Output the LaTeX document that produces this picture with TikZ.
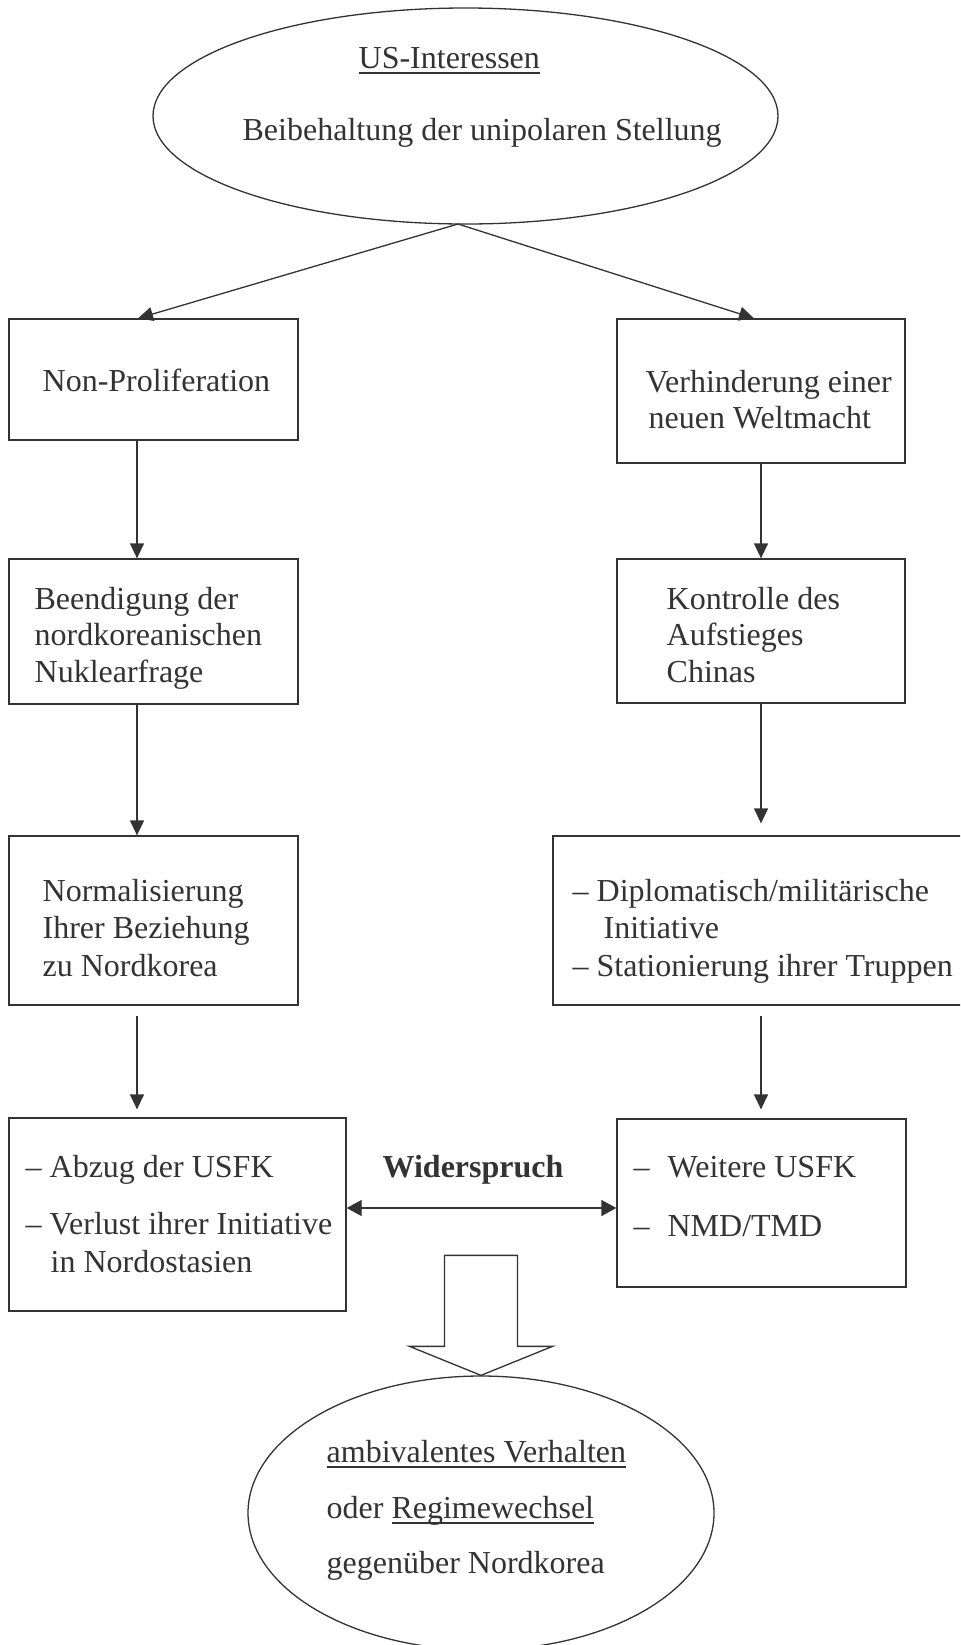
\documentclass[tikz,border=0pt]{standalone}
\usepackage{fontspec}
\setmainfont{Liberation Serif}
\usetikzlibrary{shapes.geometric,arrows.meta,calc}
\definecolor{ink}{HTML}{333333}
\newsavebox\ulbox
\newcommand\myul[1]{\sbox\ulbox{#1}\rlap{\usebox\ulbox}\rule[-2.8pt]{\wd\ulbox}{0.65pt}}
\begin{document}
\begin{tikzpicture}[x=0.5pt,y=-0.5pt,line width=0.65pt,color=ink,
  box/.style={draw,rectangle,inner sep=0pt},
  oval/.style={draw,ellipse,inner sep=0pt},
  txt/.style={anchor=base west,inner sep=0pt,font=\fontsize{16pt}{18.4pt}\selectfont},
  arr/.style={-{Triangle[length=7.5pt,width=7pt]}},
  darr/.style={{Triangle[length=7.5pt,width=8pt]}-{Triangle[length=7.5pt,width=8pt]}}]
\useasboundingbox (0,0) rectangle (960,1645);
\clip (0,0) rectangle (960,1645);
\fill[white] (0,0) rectangle (960,1645);

% ellipses
\node[oval,minimum width=312.5pt,minimum height=108pt] (top) at (465.5,116) {};
\node[oval,minimum width=233pt,minimum height=137pt] (bot) at (481,1513) {};

% boxes
\node[box,minimum width=144.5pt,minimum height=60.5pt] (npbox) at (153.5,379.5) {};
\node[box,minimum width=144pt,minimum height=72pt] (vwbox) at (761,391) {};
\node[box,minimum width=144.5pt,minimum height=72.5pt] (bdbox) at (153.5,631.5) {};
\node[box,minimum width=144pt,minimum height=72pt] (kcbox) at (761,631) {};
\node[box,minimum width=144.5pt,minimum height=84.5pt] (nmbox) at (153.5,920.5) {};
\node[box,minimum width=211pt,minimum height=84.5pt] (dpbox) at (764,920.5) {};
\node[box,minimum width=168.5pt,minimum height=96.5pt] (abbox) at (177.5,1214.5) {};
\node[box,minimum width=144.5pt,minimum height=84pt] (wtbox) at (761.5,1203) {};

% texts
\node[txt] (t1) at (358,68) {\myul{US-Interessen}};
\node[txt] (t2) at (242,140) {Beibehaltung der unipolaren Stellung};
\node[txt] (t3) at (42,391) {Non-Proliferation};
\node[txt] (t4) at (645,392) {Verhinderung einer};
\node[txt] (t5) at (648,428) {neuen Weltmacht};
\node[txt] (t6) at (34,609) {Beendigung der};
\node[txt] (t7) at (34,645) {nordkoreanischen};
\node[txt] (t8) at (34,682) {Nuklearfrage};
\node[txt] (t9) at (666,609) {Kontrolle des};
\node[txt] (t10) at (666,645) {Aufstieges};
\node[txt] (t11) at (666,682) {Chinas};
\node[txt] (t12) at (42,901) {Normalisierung};
\node[txt] (t13) at (42,938) {Ihrer Beziehung};
\node[txt] (t14) at (42,976) {zu Nordkorea};
\node[txt] (t15) at (572,901) {– Diplomatisch/militärische};
\node[txt] (t16) at (603,938) {Initiative};
\node[txt] (t17) at (572,976) {– Stationierung ihrer Truppen};
\node[txt] (t18) at (25,1177) {– Abzug der USFK};
\node[txt] (t19) at (25,1234) {– Verlust ihrer Initiative};
\node[txt] (t20) at (50,1272) {in Nordostasien};
\node[txt,font=\fontsize{16pt}{18.4pt}\selectfont\bfseries] (t21) at (382,1177) {Widerspruch};
\node[txt] (t22) at (633,1177) {–\hspace{9pt}Weitere USFK};
\node[txt] (t23) at (633,1236) {–\hspace{9pt}NMD/TMD};
\node[txt] (t24) at (326,1462) {\myul{ambivalentes Verhalten}};
\node[txt] (t25) at (326,1518) {oder \myul{Regimewechsel}};
\node[txt] (t26) at (326,1573) {gegenüber Nordkorea};

% connectors
\coordinate (split) at (458,224);
\draw[arr] (split) -- ($(npbox.north)+(-15.5,0)$);
\draw[arr] (split) -- ($(vwbox.north)+(-7,0)$);

\draw[arr] ($(npbox.south)+(-16.5,0)$) -- ($(bdbox.north)+(-16.5,0)$);
\draw[arr] (vwbox.south) -- (kcbox.north);
\draw[arr] ($(bdbox.south)+(-16.5,0)$) -- ($(nmbox.north)+(-16.5,0)$);
\coordinate (r2b) at ($(dpbox.north -| kcbox.south)+(0,-12)$);
\draw[arr] (kcbox.south) -- (r2b);

\coordinate (l3a) at ($(nmbox.south)+(-16.5,10)$);
\coordinate (l3b) at ($(l3a |- abbox.north)+(0,-8)$);
\draw[arr] (l3a) -- (l3b);
\coordinate (r3a) at ($(dpbox.south -| kcbox.south)+(0,10)$);
\coordinate (r3b) at ($(r3a |- wtbox.north)+(0,-9)$);
\draw[arr] (r3a) -- (r3b);

\coordinate (wl) at ($(abbox.east)+(0,-6.5)$);
\draw[darr] (wl) -- (wl -| wtbox.west);

% hollow block arrow
\draw[fill=white,line join=miter] (bot.north) -- ++(-71.5,-29) -- ++(35,0) -- ++(0,-91) -- ++(73,0) -- ++(0,91) -- ++(35,0) -- cycle;
\end{tikzpicture}
\end{document}
